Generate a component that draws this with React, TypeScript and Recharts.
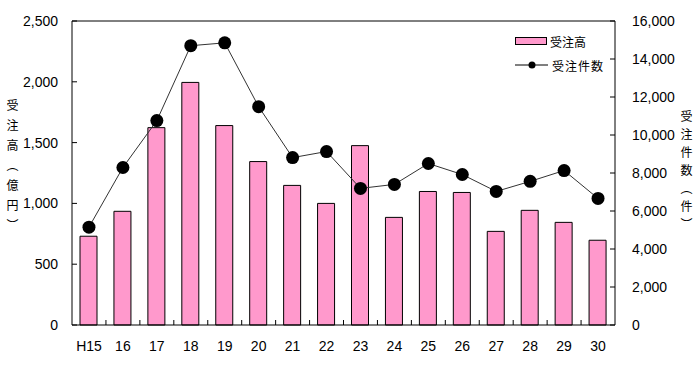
import { ComposedChart, Bar, Line, XAxis, YAxis, ReferenceLine } from 'recharts';

const categories = ['H15', '16', '17', '18', '19', '20', '21', '22', '23', '24', '25', '26', '27', '28', '29', '30'];
// 受注高 (億円)
const orderAmount = [730, 935, 1623, 1995, 1640, 1344, 1148, 1000, 1475, 885, 1098, 1090, 770, 943, 844, 697];
// 受注件数 (件)
const orderCount = [5150, 8290, 10760, 14700, 14850, 11490, 8810, 9130, 7190, 7400, 8500, 7920, 7030, 7560, 8130, 6660];
const leftTicks = [0, 500, 1000, 1500, 2000, 2500];
const rightTicks = [0, 2000, 4000, 6000, 8000, 10000, 12000, 14000, 16000];

const data = categories.map((year, i) => ({
  year,
  amount: orderAmount[i],
  count: orderCount[i],
}));

const tickFont = { fontFamily: '"Liberation Sans", Arial, sans-serif', fontSize: 14, fill: '#000' };
const jpFont = '"Noto Sans CJK JP", "Noto Sans", sans-serif';
const fmt = (v: number) => v.toLocaleString('en-US');

// category label plus a small inward tick on the boundary to the next category
const XTick = (props: any) => {
  const { x, y, payload, index } = props;
  const half = payload.offset ?? 17;
  return (
    <g>
      {index < categories.length - 1 && (
        <line x1={x + half} x2={x + half} y1={y} y2={y - 5} stroke="#000" />
      )}
      <text x={x} y={y + 26} textAnchor="middle" {...tickFont}>
        {payload.value}
      </text>
    </g>
  );
};

export default function App() {
  return (
    <div style={{ position: 'absolute', left: 0, top: 0, width: 700, height: 370, background: '#fff' }}>
      <ComposedChart
        width={700}
        height={370}
        data={data}
        margin={{ top: 21, right: 0, bottom: 15, left: 0 }}
        barSize={17}
      >
        <XAxis
          dataKey="year"
          height={30}
          tickLine={false}
          tickSize={0}
          tickMargin={0}
          tick={<XTick />}
          axisLine={{ stroke: '#000' }}
          interval={0}
        />
        <YAxis
          yAxisId="left"
          width={72}
          domain={[0, 2500]}
          ticks={leftTicks}
          tickFormatter={fmt}
          tick={tickFont}
          tickSize={-5}
          tickMargin={19}
          axisLine={{ stroke: '#000' }}
          tickLine={{ stroke: '#000' }}
        />
        <YAxis
          yAxisId="right"
          orientation="right"
          width={85}
          domain={[0, 16000]}
          ticks={rightTicks}
          tickFormatter={fmt}
          tick={{ ...tickFont, textAnchor: 'start' }}
          tickSize={-5}
          tickMargin={22}
          axisLine={{ stroke: '#000' }}
          tickLine={{ stroke: '#000' }}
        />
        <ReferenceLine yAxisId="left" y={2500} stroke="#000" />
        <Bar
          yAxisId="left"
          dataKey="amount"
          fill="#FF99CC"
          stroke="#000"
          strokeWidth={1}
          isAnimationActive={false}
        />
        <Line
          yAxisId="right"
          dataKey="count"
          type="linear"
          stroke="#333"
          strokeWidth={1}
          dot={{ r: 6.5, fill: '#000', stroke: '#000', strokeWidth: 0 }}
          isAnimationActive={false}
        />
      </ComposedChart>

      {/* axis titles */}
      <div
        style={{
          position: 'absolute', left: 5, top: 99, writingMode: 'vertical-rl',
          fontFamily: jpFont, fontSize: 12, letterSpacing: 8, color: '#000', lineHeight: '14px',
        }}
      >
        受注高（億円）
      </div>
      <div
        style={{
          position: 'absolute', left: 679, top: 110, writingMode: 'vertical-rl',
          fontFamily: jpFont, fontSize: 12, letterSpacing: 6, color: '#000', lineHeight: '14px',
        }}
      >
        受注件数（件）
      </div>

      {/* legend */}
      <div style={{ position: 'absolute', left: 515, top: 31, fontFamily: jpFont, fontSize: 12, color: '#000' }}>
        <div style={{ display: 'flex', alignItems: 'center', height: 20 }}>
          <span style={{ display: 'inline-block', width: 30, height: 6, background: '#FF99CC', border: '1px solid #000', marginRight: 3 }} />
          受注高
        </div>
        <div style={{ display: 'flex', alignItems: 'center', height: 20, marginTop: 4 }}>
          <svg width={33} height={10} style={{ marginRight: 4 }}>
            <line x1={0} x2={33} y1={5} y2={5} stroke="#000" />
            <circle cx={17} cy={5} r={3.5} fill="#000" />
          </svg>
          <span style={{ letterSpacing: 1 }}>受注件数</span>
        </div>
      </div>
    </div>
  );
}
